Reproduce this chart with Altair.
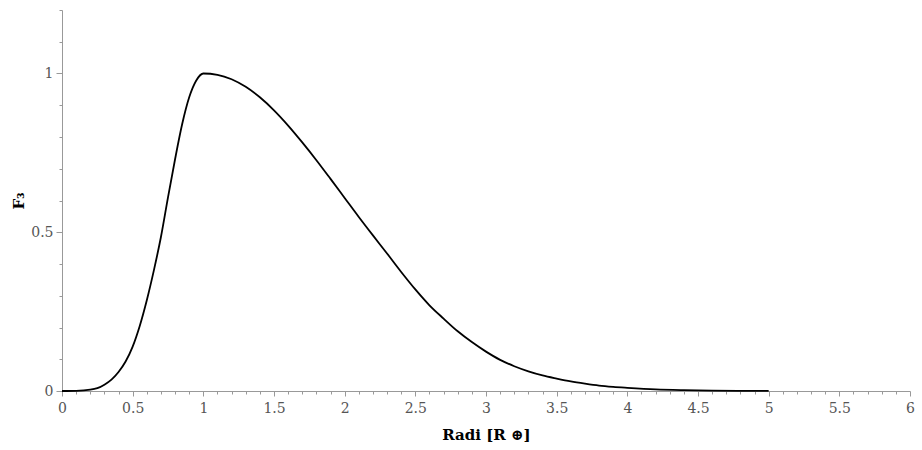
import altair as alt
import pandas as pd

# Radius values (Earth radii) and F3 values
radius = [0.0, 0.1, 0.2, 0.25, 0.3, 0.35, 0.4, 0.45, 0.5, 0.55, 0.6, 0.65, 0.7,
          0.75, 0.8, 0.85, 0.9, 0.95, 1.0, 1.1, 1.2, 1.3, 1.4, 1.5, 1.6, 1.7,
          1.8, 1.9, 2.0, 2.1, 2.2, 2.3, 2.4, 2.5, 2.6, 2.7, 2.8, 2.9, 3.0, 3.1,
          3.2, 3.3, 3.4, 3.5, 3.6, 3.7, 3.8, 3.9, 4.0, 4.2, 4.4, 4.6, 4.8, 5.0]
f3 = [0.0, 0.0005, 0.004, 0.009, 0.02, 0.036, 0.06, 0.093, 0.14, 0.205, 0.286,
      0.38, 0.485, 0.61, 0.73, 0.84, 0.925, 0.978, 1.0, 0.996, 0.982, 0.958,
      0.925, 0.884, 0.836, 0.783, 0.727, 0.668, 0.608, 0.548, 0.49, 0.433,
      0.375, 0.32, 0.27, 0.228, 0.188, 0.154, 0.124, 0.098, 0.078, 0.062,
      0.049, 0.039, 0.03, 0.023, 0.017, 0.013, 0.01, 0.005, 0.0025, 0.001,
      0.0005, 0.0002]

x_ticks = [round(i * 0.1, 1) for i in range(61)]
y_ticks = [round(i * 0.1, 1) for i in range(13)]

df = pd.DataFrame({"r": radius, "f": f3})

FONT = "DejaVu Serif"
major = "abs(round(datum.value*2)-datum.value*2)<1e-6"

x_axis = alt.Axis(
    values=x_ticks,
    labelExpr=f"{major} ? format(datum.value, '~g') : ''",
    tickSize={"condition": {"test": major, "value": 5}, "value": 3},
    labelOverlap=False, labelFlush=False, grid=False,
    domainColor="#999999", tickColor="#999999", labelColor="#555555",
    labelFont=FONT, labelFontSize=14, labelPadding=5,
    title="Radi [R ⊕]", titleFont=FONT, titleFontSize=15, titleFontWeight="bold",
    titleColor="#000000", titlePadding=12,
)
y_axis = alt.Axis(
    values=y_ticks,
    labelExpr=f"{major} ? format(datum.value, '~g') : ''",
    tickSize={"condition": {"test": major, "value": 6}, "value": 3},
    labelOverlap=False, labelFlush=False, grid=False,
    domainColor="#999999", tickColor="#999999", labelColor="#555555",
    labelFont=FONT, labelFontSize=14, labelPadding=3,
    title="F₃", titleFont=FONT, titleFontSize=15, titleFontWeight="bold",
    titleColor="#000000", titlePadding=4,
)

chart = (
    alt.Chart(df)
    .mark_line(color="black", strokeWidth=1.8, interpolate="monotone")
    .encode(
        x=alt.X("r:Q", scale=alt.Scale(domain=[0, 6], nice=False, zero=False), axis=x_axis),
        y=alt.Y("f:Q", scale=alt.Scale(domain=[0, 1.2], nice=False), axis=y_axis),
    )
    .properties(
        width=848, height=381,
        background="white",
        autosize=alt.AutoSizeParams(type="none"),
        padding={"left": 62, "top": 10, "right": 12, "bottom": 59},
    )
    .configure_view(strokeWidth=0, stroke="transparent")
)

chart.save("out.html", embed_options={"renderer": "svg", "actions": False})
